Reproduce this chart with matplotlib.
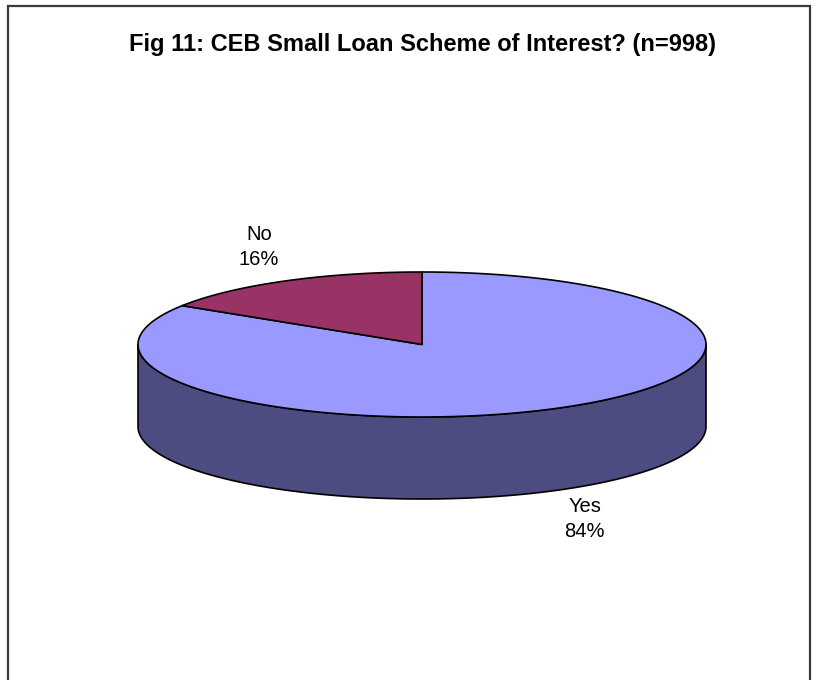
import numpy as np
import matplotlib.pyplot as plt
from matplotlib.patches import Polygon

# survey answers
labels = ["Yes", "No"]
values = [84, 16]
top_colors = ["#9999FF", "#993366"]
side_colors = ["#4C4C80", "#4D1A33"]
title = "Fig 11: CEB Small Loan Scheme of Interest? (n=998)"

plt.rcParams["font.family"] = ["Liberation Sans", "DejaVu Sans"]

W, H = 824, 680
fig = plt.figure(figsize=(W / 100, H / 100), dpi=100)
ax = fig.add_axes([0, 0, 1, 1])
ax.set_xlim(0, W)
ax.set_ylim(H, 0)
ax.axis("off")

# pie geometry in pixels
cx, cy = 422, 344.5
rx, ry = 284, 72.5
depth = 82


def ellipse(t, dy=0.0):
    r = np.radians(t)
    return np.column_stack([cx + rx * np.cos(r), cy - ry * np.sin(r) + dy])


total = float(sum(values))
start = 90.0
wedges = []
for val in values:
    span = val / total * 360.0
    wedges.append((start, start - span))
    start -= span

# side walls (only the front half, angles 180..360, is visible)
for (t1, t2), col in zip(wedges, side_colors):
    for k in range(-2, 1):
        lo = max(t2, -180 + 360 * k)
        hi = min(t1, 0 + 360 * k)
        if hi <= lo:
            continue
        t = np.linspace(hi, lo, 200)
        pts = np.vstack([ellipse(t), ellipse(t[::-1], depth)])
        ax.add_patch(Polygon(pts, closed=True, facecolor=col,
                             edgecolor="black", linewidth=1.2,
                             joinstyle="round"))

# top faces
for (t1, t2), col in zip(wedges, top_colors):
    t = np.linspace(t1, t2, 300)
    pts = np.vstack([[cx, cy], ellipse(t)])
    ax.add_patch(Polygon(pts, closed=True, facecolor=col,
                         edgecolor="black", linewidth=1.2,
                         joinstyle="round"))

# data labels
for (t1, t2), lab, val in zip(wedges, labels, values):
    m = np.radians((t1 + t2) / 2)
    s = np.sin(m)
    lx = cx + 1.19 * rx * np.cos(m)
    ly = cy - 1.19 * ry * s
    if s < 0:
        ly += depth + 17
    else:
        ly -= 22
    ax.text(lx, ly, f"{lab}\n{val / total:.0%}", ha="center", va="center",
            fontsize=14.5, linespacing=1.45, color="black")

ax.text(423, 51, title, ha="center", va="baseline", fontsize=17,
        fontweight="bold", color="black")

# chart frame
ax.plot([8.5, 8.5, 810.5, 810.5], [H + 5, 5.5, 5.5, H + 5],
        color="#3a3a3a", linewidth=1.6, solid_joinstyle="miter",
        clip_on=False)

fig.savefig("out.png", dpi=100, facecolor="white")
